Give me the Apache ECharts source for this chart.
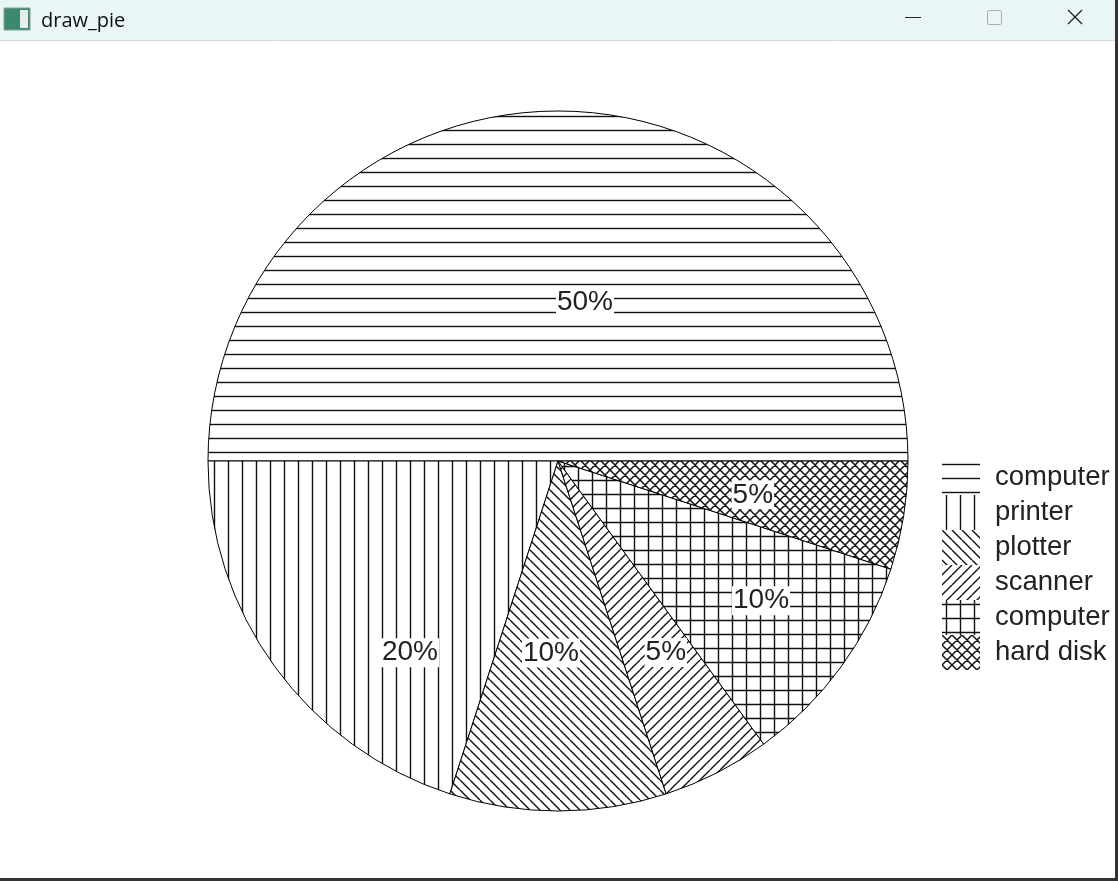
<!DOCTYPE html>
<html>
<head>
<meta charset="utf-8">
<script src="https://cdn.jsdelivr.net/npm/echarts@6/dist/echarts.min.js"></script>
<style>
html,body{margin:0;padding:0;background:#fff;}
#chart{width:1118px;height:881px;}
</style>
</head>
<body>
<div id="chart"></div>
<script>
// ---- data ----
const categories = ['computer', 'printer', 'plotter', 'scanner', 'computer ', 'hard disk'];
const values = [50, 20, 10, 5, 10, 5];
const hatches = ['horizontal', 'vertical', 'bdiag', 'fdiag', 'grid', 'cross'];
// label nudges (styling) relative to the default inside position
const labelNudge = [[27, 19], [-4, 87], [-7, 14], [27, 33], [59, 35], [19, 6]];

function makeHatch(kind) {
  const diag = (kind === 'bdiag' || kind === 'fdiag' || kind === 'cross');
  const s = diag ? 10 : 14;
  const c = document.createElement('canvas');
  c.width = s; c.height = s;
  const g = c.getContext('2d');
  g.fillStyle = '#fff';
  g.fillRect(0, 0, s, s);
  g.strokeStyle = '#111';
  g.lineWidth = 1.4;
  g.beginPath();
  const hl = () => { g.moveTo(0, 4.5); g.lineTo(s, 4.5); };
  const vl = () => { g.moveTo(4.5, 0); g.lineTo(4.5, s); };
  const bd = () => { for (const o of [-s, 0, s]) { g.moveTo(o, 0); g.lineTo(o + s, s); } };
  const fd = () => { for (const o of [-s, 0, s]) { g.moveTo(o + s, 0); g.lineTo(o, s); } };
  if (kind === 'horizontal') hl();
  if (kind === 'vertical') vl();
  if (kind === 'bdiag') bd();
  if (kind === 'fdiag') fd();
  if (kind === 'grid') { hl(); vl(); }
  if (kind === 'cross') { g.lineWidth = 1.5; bd(); fd(); }
  g.stroke();
  return { image: c, repeat: 'repeat' };
}

const pieData = categories.map((name, i) => ({
  name: name,
  value: values[i],
  itemStyle: { color: makeHatch(hatches[i]) },
  label: { offset: labelNudge[i] }
}));

const chart = echarts.init(document.getElementById('chart'), null, { renderer: 'canvas' });
const FONT = "'Liberation Sans', Arial, sans-serif";

chart.setOption({
  animation: false,
  backgroundColor: '#fff',
  title: {
    text: 'draw_pie',
    left: 36, top: 6,
    textStyle: { fontFamily: "'Open Sans', 'Noto Sans', sans-serif", fontSize: 20, fontWeight: 'normal', color: '#111' }
  },
  graphic: [
    { type: 'rect', shape: { x: 0, y: 0, width: 1118, height: 40 }, style: { fill: '#eaf5f5' }, z: -1 },
    { type: 'line', shape: { x1: 0, y1: 40.5, x2: 1118, y2: 40.5 }, style: { stroke: '#d5dcdc', lineWidth: 1 } },
    { type: 'rect', shape: { x: 4, y: 8, width: 26, height: 22 }, style: { fill: '#3c8a6e', stroke: '#8a9aa0', lineWidth: 1 } },
    { type: 'rect', shape: { x: 20, y: 10, width: 8, height: 18 }, style: { fill: '#e8eef0' } },
    { type: 'line', shape: { x1: 905, y1: 17.5, x2: 921, y2: 17.5 }, style: { stroke: '#222', lineWidth: 1 } },
    { type: 'rect', shape: { x: 987.5, y: 10.5, width: 14, height: 14, r: 2 }, style: { fill: 'none', stroke: '#aaa', lineWidth: 1 } },
    { type: 'line', shape: { x1: 1068, y1: 10, x2: 1082, y2: 24 }, style: { stroke: '#222', lineWidth: 1.3 } },
    { type: 'line', shape: { x1: 1082, y1: 10, x2: 1068, y2: 24 }, style: { stroke: '#222', lineWidth: 1.3 } },
    { type: 'rect', shape: { x: 1115, y: 0, width: 3, height: 881 }, style: { fill: '#333' } },
    { type: 'rect', shape: { x: 0, y: 878, width: 1118, height: 3 }, style: { fill: '#333' } }
  ],
  legend: {
    orient: 'vertical',
    left: 942,
    top: 460,
    padding: 0,
    itemWidth: 38,
    itemHeight: 35,
    itemGap: 0,
    icon: 'rect',
    selectedMode: false,
    itemStyle: { borderWidth: 0 },
    textStyle: { fontFamily: FONT, fontSize: 27.5, color: '#222', padding: [0, 0, 0, 10] },
    data: categories
  },
  series: [{
    type: 'pie',
    center: [558, 461],
    radius: [0, 350],
    startAngle: 0,
    clockwise: false,
    avoidLabelOverlap: false,
    emphasis: { disabled: true },
    itemStyle: { borderColor: '#000', borderWidth: 1 },
    label: {
      show: true,
      position: 'inside',
      formatter: '{d}%',
      fontFamily: FONT,
      fontSize: 28,
      color: '#222',
      backgroundColor: '#fff',
      padding: [1, 1, 0, 1]
    },
    labelLine: { show: false },
    data: pieData
  }]
});
</script>
</body>
</html>
